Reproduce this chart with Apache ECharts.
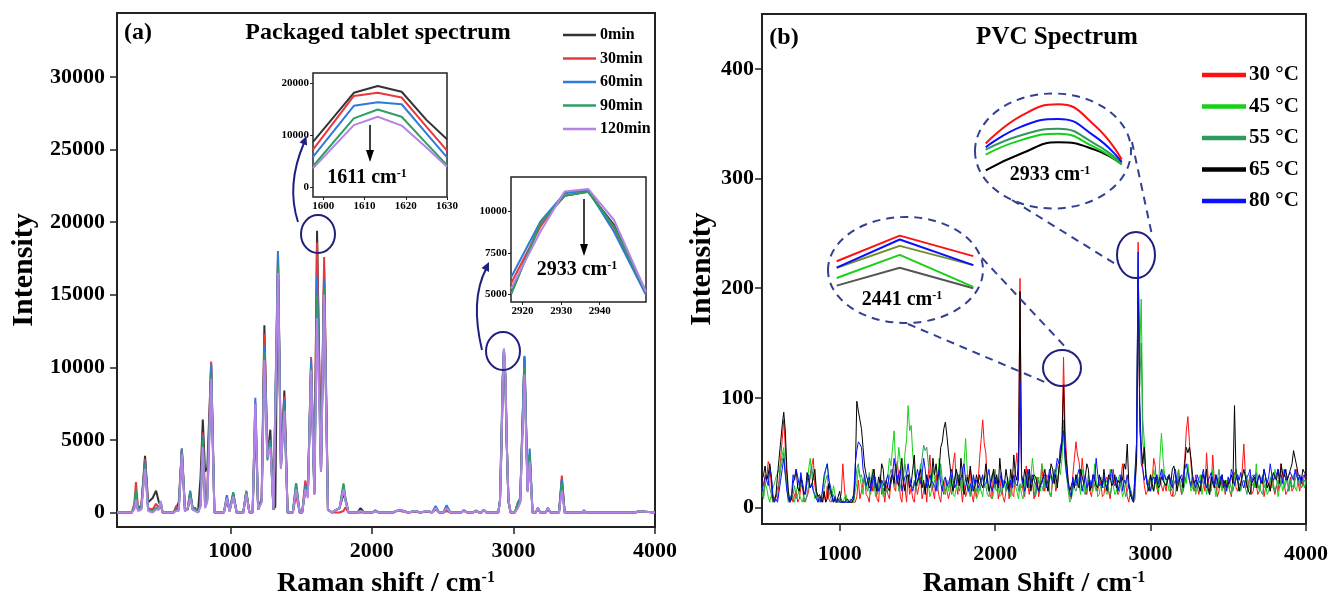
<!DOCTYPE html>
<html>
<head>
<meta charset="utf-8">
<title>Raman spectra</title>
<script src="https://cdn.jsdelivr.net/npm/echarts@6.0.0/dist/echarts.min.js"></script>
<style>
  html, body { margin: 0; padding: 0; background: #fff; }
  #chart { width: 1331px; height: 603px; }
</style>
</head>
<body>
<div id="chart"></div>
<script>
// ---------- panel (a): packaged tablet spectrum ----------
const namesA = ['0min', '30min', '60min', '90min', '120min']
const colorsA = ['#333333', '#e8383d', '#2f7bd8', '#2e9e62', '#b583e6']

const shiftA = [
  200, 305, 322, 334, 348, 372, 398, 420, 452, 476, 496, 509, 522, 600, 618, 636, 658, 680, 700, 717,
  735, 752, 772, 790, 806, 822, 838, 865, 888, 955, 976, 995, 1021, 1045, 1092, 1113, 1135, 1158, 1177, 1197,
  1222, 1241, 1262, 1283, 1305, 1318, 1337, 1358, 1382, 1405, 1442, 1465, 1490, 1508, 1530, 1548, 1571, 1594, 1613, 1641,
  1663, 1690, 1718, 1772, 1800, 1812, 1835, 1898, 1920, 1945, 2005, 2025, 2048, 2150, 2172, 2200, 2225, 2255, 2310, 2340,
  2395, 2425, 2450, 2475, 2505, 2528, 2555, 2630, 2650, 2675, 2715, 2735, 2760, 2775, 2790, 2810, 2893, 2905, 2917, 2925,
  2933, 2944, 2952, 2965, 2980, 3010, 3032, 3048, 3078, 3100, 3115, 3135, 3158, 3172, 3190, 3228, 3243, 3262, 3322, 3342,
  3362, 3485, 3498, 3512, 3675, 3689, 3703, 3840, 3850, 3862, 3872, 3880, 3890, 4000
]
const min0 = [
  0, 0, 300, 1100, 200, 500, 3900, 700, 1000, 1500, 700, 500, 0, 0, 300, 700, 4300, 300, 200, 1200,
  300, 300, 0, 2400, 6400, 2800, 3100, 10200, 0, 0, 900, 100, 1200, 0, 0, 1400, 0, 0, 6500, 200,
  1000, 12900, 3800, 5700, 200, 400, 17900, 3100, 8400, 0, 0, 1700, 0, 0, 1500, 1200, 10200, 1300, 19400, 2800,
  16800, 200, 0, 300, 1300, 900, 0, 0, 300, 0, 0, 150, 0, 0, 100, 150, 100, 0, 100, 0,
  100, 0, 350, 0, 0, 300, 0, 0, 150, 0, 0, 100, 0, 0, 200, 0, 0, 800, 5000, 9300,
  11200, 9200, 5100, 800, 0, 0, 500, 800, 10700, 1500, 4000, 0, 0, 300, 0, 0, 300, 0, 0, 2200,
  0, 0, 150, 0, 0, 100, 0, 0, 80, 0, 0, 80, 0, 0
]
const min30 = [
  0, 0, 600, 2100, 300, 300, 3700, 300, 200, 600, 300, 700, 0, 0, 450, 200, 4400, 100, 300, 1400,
  200, 200, 0, 500, 5500, 900, 1600, 10400, 0, 0, 1100, 100, 1300, 0, 0, 1400, 0, 0, 7600, 200,
  900, 12300, 4300, 5000, 200, 300, 17500, 3300, 8000, 0, 0, 1200, 0, 0, 2200, 1300, 10700, 1500, 18600, 2900,
  17600, 200, 0, 0, 100, 350, 0, 0, 0, 0, 0, 100, 0, 0, 100, 100, 50, 0, 50, 0,
  50, 0, 200, 0, 0, 100, 0, 0, 100, 0, 0, 100, 0, 0, 150, 0, 0, 800, 5650, 9100,
  11200, 9000, 5050, 800, 0, 0, 400, 700, 10500, 1500, 3800, 0, 0, 200, 0, 0, 200, 0, 0, 2550,
  0, 0, 100, 0, 0, 100, 0, 0, 80, 0, 0, 80, 0, 0
]
const min60 = [
  0, 0, 400, 1400, 200, 300, 3500, 200, 100, 300, 200, 700, 0, 0, 200, 200, 4400, 100, 300, 1500,
  200, 200, 0, 500, 5300, 600, 900, 10200, 0, 0, 1200, 100, 1300, 0, 0, 1400, 0, 0, 7900, 200,
  800, 11500, 4000, 5000, 200, 300, 18000, 3300, 7800, 0, 0, 2000, 0, 0, 1900, 1400, 10500, 1400, 16300, 2900,
  16000, 200, 0, 300, 1900, 1000, 0, 0, 100, 0, 0, 100, 0, 0, 100, 150, 100, 0, 100, 0,
  100, 0, 450, 0, 0, 500, 0, 0, 150, 0, 0, 150, 0, 0, 200, 0, 0, 900, 6000, 9400,
  11200, 8800, 4950, 700, 0, 0, 700, 1000, 10800, 1600, 4400, 0, 0, 300, 0, 0, 300, 0, 0, 2300,
  0, 0, 150, 0, 0, 100, 0, 0, 80, 0, 0, 80, 0, 0
]
const min90 = [
  0, 0, 400, 1600, 200, 300, 3300, 200, 100, 300, 200, 700, 0, 0, 200, 200, 4200, 100, 300, 1300,
  200, 300, 0, 500, 5000, 500, 900, 9500, 0, 0, 1000, 100, 1400, 0, 0, 1500, 0, 0, 6800, 200,
  800, 11000, 3600, 4800, 200, 300, 17000, 3100, 7300, 0, 0, 2000, 0, 0, 1700, 1200, 10000, 1300, 14900, 2800,
  15500, 200, 0, 300, 2000, 1100, 0, 0, 100, 0, 0, 100, 0, 0, 100, 150, 100, 0, 100, 0,
  100, 0, 300, 0, 0, 300, 0, 0, 150, 0, 0, 100, 0, 0, 200, 0, 0, 700, 5000, 9300,
  11100, 9100, 5150, 800, 0, 0, 700, 800, 10000, 1500, 4000, 0, 0, 300, 0, 0, 300, 0, 0, 2000,
  0, 0, 150, 0, 0, 100, 0, 0, 80, 0, 0, 80, 0, 0
]
const min120 = [
  0, 0, 200, 900, 100, 200, 3000, 100, 0, 200, 200, 800, 0, 0, 100, 100, 4000, 100, 300, 1000,
  200, 100, 0, 400, 4500, 300, 700, 9200, 0, 0, 1000, 100, 1100, 0, 0, 1300, 0, 0, 7500, 200,
  700, 10500, 3800, 4500, 200, 300, 16500, 3000, 7000, 0, 0, 1600, 0, 0, 1600, 1000, 9800, 1200, 13400, 2800,
  15000, 200, 0, 300, 1600, 900, 0, 0, 100, 0, 0, 100, 0, 0, 100, 150, 100, 0, 100, 0,
  100, 0, 300, 0, 0, 300, 0, 0, 150, 0, 0, 100, 0, 0, 200, 0, 0, 700, 5300, 8800,
  11300, 9500, 5150, 900, 0, 0, 300, 700, 9500, 1400, 3500, 0, 0, 300, 0, 0, 300, 0, 0, 1500,
  0, 0, 150, 0, 0, 100, 0, 0, 80, 0, 0, 80, 0, 0
]
const ticksA_x = [1000, 2000, 3000, 4000]
const ticksA_y = [0, 5000, 10000, 15000, 20000, 25000, 30000]

// inset 1: 1611 band
const inset1Shift = [1597.5, 1607.4, 1613.2, 1619, 1625, 1630]
const inset1 = [
  [8700, 18100, 19400, 18300, 12900, 9200],
  [7200, 17500, 18100, 17200, 11600, 7000],
  [5800, 15600, 16300, 15900, 10300, 5700],
  [4000, 13200, 14900, 13500, 8400, 4200],
  [3600, 11900, 13500, 11800, 7600, 3900]
]
const inset1Ticks_x = [1600, 1610, 1620, 1630]
const inset1Ticks_y = [0, 10000, 20000]

// inset 2: 2933 band
const inset2Shift = [2917, 2924.6, 2930.9, 2937, 2943.7, 2952]
const inset2 = [
  [5000, 9290, 10950, 11190, 9190, 5100],
  [5650, 9085, 11150, 11270, 8990, 5050],
  [6010, 9387, 11100, 11270, 8780, 4950],
  [5000, 9290, 10950, 11190, 9085, 5150],
  [5340, 8780, 11208, 11370, 9490, 5150]
]
const inset2Ticks_x = [2920, 2930, 2940]
const inset2Ticks_y = [5000, 7500, 10000]

// ---------- panel (b): PVC spectrum ----------
const namesB = ['30 °C', '45 °C', '55 °C', '65 °C', '80 °C']
const colorsB = ['#ff1010', '#18d018', '#2f9a5e', '#000000', '#0a10ff']
// sampled every 10 cm-1 from 500 to 4000, one row = 200 cm-1
const shiftB = Array.from({ length: 351 }, (_, i) => 500 + i * 10)
const c30 = [
  18,10,30,25,42,38,20,5,5,12, 8,25,45,62,80,55,28,5,5,10,
  5,12,15,5,8,18,22,5,5,10, 15,30,38,45,20,12,5,8,5,5,
  12,5,20,8,5,5,8,5,5,5, 5,12,40,18,5,5,5,5,5,5,
  5,10,25,8,15,22,30,12,10,5, 22,15,35,20,8,5,28,12,18,5,
  20,12,8,25,35,18,15,42,28,10, 5,25,18,5,30,12,18,8,5,22,
  12,20,28,8,15,22,5,30,48,25, 15,8,30,18,10,5,20,12,28,15,
  8,15,25,40,50,22,12,30,18,5, 22,10,15,28,35,12,5,18,10,22,
  45,62,80,58,50,22,20,10,8,35, 18,28,8,15,28,10,5,15,22,8,
  22,12,10,35,50,30,209,28,15,10, 38,20,12,30,25,8,15,28,10,18,
  40,22,15,30,28,12,10,25,32,15, 20,35,55,60,137,70,45,20,12,8,
  30,45,60,48,42,25,45,30,18,12, 25,15,10,22,30,18,15,28,22,10,
  12,25,28,15,8,20,35,22,20,12, 15,28,40,25,22,10,5,15,8,5,
  5,40,242,70,55,35,20,12,15,25, 30,22,45,38,18,12,28,20,15,22,
  15,28,30,12,10,22,25,18,35,20, 12,28,45,70,83,60,40,22,15,30,
  20,12,18,30,22,15,50,28,15,20, 48,25,22,10,15,28,18,25,12,22,
  25,15,10,28,32,18,15,22,20,35, 58,30,18,22,30,12,15,25,22,12,
  15,25,28,10,18,25,22,15,30,18, 12,20,15,28,40,25,22,12,15,20,
  28,15,18,30,35,22,15,28,20,30,25
]
const c45 = [
  15,8,22,18,10,5,5,18,22,28, 28,35,40,48,55,30,20,5,5,12,
  10,5,15,20,12,8,5,12,15,22, 35,45,30,18,8,12,5,5,8,15,
  25,35,40,28,15,10,20,12,5,8, 5,5,5,5,12,5,5,5,5,5,
  15,22,35,28,20,12,30,18,25,15, 12,35,28,10,20,15,30,22,10,18,
  25,30,45,38,55,70,40,35,55,42, 30,25,50,62,93,70,75,48,35,22,
  20,28,40,30,18,15,25,22,10,15, 35,28,18,22,45,30,22,15,12,25,
  15,22,30,12,10,18,25,30,20,15, 40,63,35,18,12,25,28,15,8,12,
  20,15,10,25,30,18,15,25,8,12, 35,22,18,10,12,25,22,15,28,18,
  10,18,25,20,15,8,20,12,8,25, 30,22,18,28,45,30,12,18,28,15,
  40,32,18,22,25,15,10,28,30,18, 22,35,30,45,75,40,28,15,5,8,
  15,22,30,25,20,12,35,28,12,18, 25,20,18,15,40,25,10,12,22,18,
  28,15,12,22,35,28,20,12,15,25, 30,18,10,15,25,20,18,12,8,5,
  5,60,222,140,190,80,60,30,25,18, 15,22,35,28,20,15,45,68,45,30,
  30,22,15,18,25,10,12,28,35,22, 20,15,28,22,40,28,15,18,22,12,
  18,25,30,12,20,25,12,22,20,15, 35,22,10,18,28,20,15,22,18,25,
  20,15,12,22,28,35,25,15,18,22, 25,18,30,15,22,28,30,18,40,22,
  15,22,30,18,22,12,15,28,18,22, 35,28,10,18,25,15,20,28,22,15,
  22,28,30,18,15,28,20,22,25,18,25
]
const c55 = [
  10,15,20,28,30,18,12,5,5,10, 18,22,35,42,50,32,25,8,5,8,
  12,20,8,12,15,22,25,10,5,12, 20,28,38,25,28,15,10,5,8,5,
  18,25,30,15,10,5,12,8,5,5, 5,8,5,5,5,5,5,8,5,5,
  20,35,40,28,30,22,25,18,15,32, 22,28,15,28,12,20,18,25,15,12,
  15,22,28,35,30,20,22,30,15,18, 25,32,40,28,30,22,20,18,25,15,
  25,30,35,45,57,52,55,40,30,22, 18,25,22,15,28,40,25,20,15,22,
  18,25,12,20,28,35,22,15,25,18, 20,28,30,15,10,22,18,25,15,20,
  15,22,28,18,20,12,10,25,30,22, 18,15,25,20,12,18,22,15,20,12,
  12,18,20,25,28,15,22,18,25,12, 30,22,18,25,22,15,10,20,25,18,
  20,15,28,22,15,25,30,22,35,28, 40,32,45,55,80,50,30,20,10,8,
  22,18,15,20,28,25,20,15,12,18, 30,22,18,25,25,15,15,22,28,20,
  18,22,25,15,12,20,30,25,20,15, 15,22,28,18,10,15,22,18,12,5,
  8,55,226,110,150,60,45,30,20,25, 28,18,15,22,30,25,22,28,35,20,
  20,25,28,15,15,22,25,18,30,22, 12,15,22,30,35,25,18,22,25,15,
  25,18,15,22,30,25,20,15,12,22, 28,20,18,25,35,22,22,18,15,20,
  28,22,18,15,22,25,30,18,15,22, 25,18,12,20,28,22,20,25,32,18,
  20,15,12,22,28,18,18,25,30,22, 15,20,25,18,22,28,18,22,28,15,
  25,20,18,25,30,22,28,18,20,25,22
]
const c65 = [
  25,30,38,25,30,40,28,8,5,12, 30,45,60,75,87,70,35,15,5,8,
  22,28,35,18,15,28,20,12,15,32, 25,18,20,28,35,15,10,12,8,5,
  15,5,8,22,15,10,5,8,5,5, 15,5,5,5,5,8,5,5,5,8,
  30,97,88,80,72,55,38,30,25,18, 20,30,35,22,15,28,22,40,35,15,
  25,18,15,28,30,22,40,25,20,32, 45,22,15,28,30,18,22,35,48,20,
  20,28,35,18,25,12,30,22,18,25, 45,30,40,25,35,55,60,72,78,65,
  50,38,22,15,25,35,28,20,45,30, 12,18,28,22,38,25,15,20,30,22,
  30,22,18,25,40,28,15,20,28,35, 22,30,18,45,28,20,22,35,25,15,
  35,22,48,30,25,40,197,30,22,35, 28,18,35,15,25,30,28,22,15,20,
  20,28,35,22,15,28,40,35,22,30, 18,35,45,60,112,55,40,25,15,20,
  25,18,30,22,18,35,28,22,28,40, 35,15,22,30,25,20,18,30,25,20,
  35,22,15,30,28,20,22,30,18,25, 22,28,25,40,35,58,22,12,8,5,
  5,45,210,95,55,40,55,30,20,15, 30,22,15,28,25,18,20,28,25,22,
  20,25,30,22,35,38,30,15,22,28, 25,18,40,55,50,55,45,30,22,25,
  25,20,15,28,30,22,35,18,12,28, 22,18,30,25,18,22,30,20,25,18,
  18,25,30,22,93,30,25,15,22,28, 35,28,20,15,12,22,25,28,18,25,
  30,25,22,35,28,18,22,15,25,32, 28,25,35,22,40,30,28,35,25,30,
  35,40,52,45,38,30,28,25,35,32,30
]
const c80 = [
  15,22,28,25,20,35,30,12,5,8, 5,15,25,35,45,30,15,8,5,12,
  30,25,35,28,20,32,22,15,12,25, 30,18,22,15,12,8,5,10,5,5,
  30,35,40,25,20,12,5,10,5,8, 5,5,5,5,5,5,5,5,8,12,
  40,52,60,58,55,35,28,20,25,28, 15,22,30,18,22,15,18,25,22,18,
  25,30,18,22,30,45,35,22,30,35, 15,22,28,30,40,28,20,15,22,25,
  35,28,22,30,45,35,18,22,30,25, 25,20,15,28,35,22,15,25,28,20,
  22,28,35,25,18,22,30,28,25,35, 40,25,20,15,22,15,30,22,25,18,
  18,25,30,20,22,28,35,22,15,20, 28,22,20,25,32,18,25,22,18,15,
  25,18,30,22,20,25,115,28,22,15, 20,35,28,22,30,25,22,18,15,20,
  22,28,30,18,25,35,30,22,28,35, 45,40,55,62,70,45,30,22,15,10,
  28,22,20,30,35,25,15,22,30,18, 22,25,18,30,25,45,30,20,22,18,
  30,22,18,25,28,35,22,20,28,15, 22,30,15,25,22,30,18,15,10,5,
  5,60,233,95,40,35,25,30,20,22, 15,25,28,22,30,22,28,35,25,30,
  25,28,30,22,18,30,35,22,25,28, 30,22,35,40,32,25,20,28,22,18,
  30,25,22,28,35,22,18,25,28,32, 25,20,30,22,20,28,30,18,22,15,
  28,22,35,30,20,28,30,25,32,22, 18,25,28,30,35,22,28,30,22,25,
  30,22,25,35,28,22,28,40,30,25, 25,30,35,28,30,22,35,25,28,30,
  32,28,25,35,30,25,30,22,28,30,25
]
const ticksB_x = [1000, 2000, 3000, 4000]
const ticksB_y = [0, 100, 200, 300, 400]

// zoomed views inside the dashed ellipses
const zoom2441Shift = [2435, 2441, 2448]
const zoom2441 = [
  [117, 137, 121],
  [104, 122, 97],
  [112, 129, 114],
  [98, 112, 96],
  [112, 134, 114]
]
const zoom2933Shift = [2925, 2929, 2933, 2937, 2940]
const zoom2933 = [
  [209, 232, 241, 224, 196],
  [200, 212, 217, 206, 192],
  [204, 216, 221, 209, 193],
  [187, 201, 210, 204, 192],
  [206, 223, 229, 215, 194]
]

// ---------- chart ----------
const FONT = "'Liberation Serif', 'Times New Roman', serif"
const NAVY = '#1f1f80'
const DASH = '#33408f'
const pairs = (xs, ys) => xs.map((x, i) => [x, ys[i]])
const plain = (v) => String(v)

const bold = (size) => ({ fontFamily: FONT, fontWeight: 'bold', fontSize: size, color: '#000' })
const supRich = (size) => ({ sup: { fontFamily: FONT, fontWeight: 'bold', fontSize: size, verticalAlign: 'top', color: '#000' } })

function mainX(gridIndex, min, max, ticks, name, margin, gap) {
  return {
    type: 'value', gridIndex, min, max,
    name, nameLocation: 'middle', nameGap: gap,
    nameTextStyle: Object.assign(bold(28), { rich: supRich(16) }),
    axisLine: { show: false, onZero: false },
    axisTick: { show: true, length: 7, customValues: ticks, lineStyle: { color: '#222', width: 1.5 } },
    axisLabel: Object.assign(bold(22), { margin, customValues: ticks, formatter: plain }),
    splitLine: { show: false }
  }
}
function mainY(gridIndex, min, max, ticks, margin, gap) {
  return {
    type: 'value', gridIndex, min, max,
    name: 'Intensity', nameLocation: 'middle', nameGap: gap,
    nameTextStyle: bold(30),
    axisLine: { show: false, onZero: false },
    axisTick: { show: true, length: 7, customValues: ticks, lineStyle: { color: '#222', width: 1.5 } },
    axisLabel: Object.assign(bold(22), { margin, customValues: ticks, formatter: plain }),
    splitLine: { show: false }
  }
}
function insetAxis(gridIndex, min, max, ticks) {
  return {
    type: 'value', gridIndex, min, max,
    axisLine: { show: false, onZero: false },
    axisTick: { show: true, length: 3, customValues: ticks, lineStyle: { color: '#222' } },
    axisLabel: Object.assign(bold(11), { margin: 4, customValues: ticks, formatter: plain }),
    splitLine: { show: false }
  }
}
function hiddenAxis(gridIndex, min, max) {
  return { type: 'value', gridIndex, min, max, show: false, axisLine: { onZero: false }, splitLine: { show: false } }
}
function lineSeries(name, xi, yi, data, color, width, smooth) {
  return {
    name, type: 'line', xAxisIndex: xi, yAxisIndex: yi, data,
    symbol: 'none', smooth: smooth || false, animation: false,
    lineStyle: { color, width }, itemStyle: { color },
    emphasis: { disabled: true }
  }
}

const seriesA = [min0, min30, min60, min90, min120]
const seriesB = [c30, c45, c55, c65, c80]
const series = []
seriesA.forEach((ys, i) => series.push(lineSeries(namesA[i], 0, 0, pairs(shiftA, ys), colorsA[i], 2)))
inset1.forEach((ys, i) => series.push(lineSeries(null, 1, 1, pairs(inset1Shift, ys), colorsA[i], 2)))
inset2.forEach((ys, i) => series.push(lineSeries(null, 2, 2, pairs(inset2Shift, ys), colorsA[i], 2)))
seriesB.forEach((ys, i) => series.push(lineSeries(namesB[i], 3, 3, pairs(shiftB, ys), colorsB[i], 1)))
const colors2441 = ['#ff1010', '#18d018', '#6f8f2f', '#555555', '#0a10ff']
const drawOrder = [3, 1, 2, 4, 0]
drawOrder.forEach((i) => series.push(lineSeries(null, 4, 4, pairs(zoom2441Shift, zoom2441[i]), colors2441[i], 2)))
drawOrder.forEach((i) => series.push(lineSeries(null, 5, 5, pairs(zoom2933Shift, zoom2933[i]), colorsB[i], 2, 0.5)))

const frame = { show: true, borderColor: '#222', borderWidth: 2, backgroundColor: '#fff' }
const rowA = 23.5
const rowB = 31.5

const option = {
  animation: false,
  grid: [
    Object.assign({ left: 117, top: 13, width: 538, height: 515 }, frame),
    Object.assign({ left: 313, top: 73, width: 134, height: 124 }, frame, { borderWidth: 1.5 }),
    Object.assign({ left: 511, top: 177, width: 135, height: 125 }, frame, { borderWidth: 1.5 }),
    Object.assign({ left: 762, top: 14, width: 545, height: 518 }, frame),
    { left: 836.7, top: 225, width: 136.6, height: 75, show: false },
    { left: 985.7, top: 90, width: 136, height: 90, show: false }
  ],
  xAxis: [
    mainX(0, 200, 4000, ticksA_x, 'Raman shift / cm{sup|-1}', 13, 43),
    insetAxis(1, 1597.5, 1630, inset1Ticks_x),
    insetAxis(2, 2917, 2952, inset2Ticks_x),
    mainX(3, 500, 4000, ticksB_x, 'Raman Shift / cm{sup|-1}', 19, 39),
    hiddenAxis(4, 2435, 2448),
    hiddenAxis(5, 2925, 2940)
  ],
  yAxis: [
    mainY(0, -1000, 34400, ticksA_y, 12, 78),
    insetAxis(1, -1900, 21900, inset1Ticks_y),
    insetAxis(2, 4530, 12090, inset2Ticks_y),
    mainY(3, -15, 450, ticksB_y, 8, 45),
    hiddenAxis(4, 86.8, 145.3),
    hiddenAxis(5, 179.2, 252.7)
  ],
  legend: [
    {
      data: namesA, orient: 'vertical', left: 563, top: 35 - rowA / 2, padding: 0,
      icon: 'rect', itemWidth: 33, itemHeight: 2.5, itemGap: 0,
      textStyle: Object.assign(bold(16), { lineHeight: rowA, padding: [0, 0, 0, -1] }),
      selectedMode: false
    },
    {
      data: namesB, orient: 'vertical', left: 1202, top: 75 - rowB / 2, padding: 0,
      icon: 'rect', itemWidth: 44, itemHeight: 4.5, itemGap: 0,
      textStyle: Object.assign(bold(21), { lineHeight: rowB, padding: [0, 0, 0, -2] }),
      selectedMode: false
    }
  ],
  series,
  graphic: [
    // titles
    { type: 'text', x: 138, y: 33, style: { text: '(a)', font: `bold 24px ${FONT}`, align: 'center', verticalAlign: 'middle' } },
    { type: 'text', x: 378, y: 33, style: { text: 'Packaged tablet spectrum', font: `bold 24px ${FONT}`, align: 'center', verticalAlign: 'middle' } },
    { type: 'text', x: 784, y: 38, style: { text: '(b)', font: `bold 24px ${FONT}`, align: 'center', verticalAlign: 'middle' } },
    { type: 'text', x: 1057, y: 38, style: { text: 'PVC Spectrum', font: `bold 25px ${FONT}`, align: 'center', verticalAlign: 'middle' } },
    // panel (a) inset labels and arrows
    { type: 'text', x: 367, y: 178, z: 20, style: { text: '1611 cm{sup|-1}', font: `bold 20px ${FONT}`, align: 'center', verticalAlign: 'middle', rich: supRich(12) } },
    { type: 'text', x: 577, y: 270, z: 20, style: { text: '2933 cm{sup|-1}', font: `bold 20px ${FONT}`, align: 'center', verticalAlign: 'middle', rich: supRich(12) } },
    { type: 'line', z: 20, shape: { x1: 370, y1: 125, x2: 370, y2: 152 }, style: { stroke: '#000', lineWidth: 1.5 } },
    { type: 'polygon', z: 20, shape: { points: [[370, 162], [366, 150], [374, 150]] }, style: { fill: '#000' } },
    { type: 'line', z: 20, shape: { x1: 584, y1: 199, x2: 584, y2: 246 }, style: { stroke: '#000', lineWidth: 1.5 } },
    { type: 'polygon', z: 20, shape: { points: [[584, 256], [580, 244], [588, 244]] }, style: { fill: '#000' } },
    // panel (a) circles and curved arrows
    { type: 'ellipse', z: 20, shape: { cx: 318, cy: 234, rx: 17, ry: 19 }, style: { fill: 'none', stroke: NAVY, lineWidth: 2 } },
    { type: 'ellipse', z: 20, shape: { cx: 503, cy: 351, rx: 17, ry: 19 }, style: { fill: 'none', stroke: NAVY, lineWidth: 2 } },
    { type: 'bezierCurve', z: 20, shape: { x1: 298, y1: 222, cpx1: 286, cpy1: 185, x2: 304, y2: 143 }, style: { fill: 'none', stroke: NAVY, lineWidth: 2 } },
    { type: 'polygon', z: 20, shape: { points: [[306.5, 136], [307, 145.5], [299.5, 142.5]] }, style: { fill: NAVY } },
    { type: 'bezierCurve', z: 20, shape: { x1: 482, y1: 350, cpx1: 470, cpy1: 300, x2: 486, y2: 269 }, style: { fill: 'none', stroke: NAVY, lineWidth: 2 } },
    { type: 'polygon', z: 20, shape: { points: [[489, 262], [489, 272], [481.5, 268]] }, style: { fill: NAVY } },
    // panel (b) circles, dashed ellipses and leaders
    { type: 'ellipse', z: 20, shape: { cx: 1062, cy: 368, rx: 19, ry: 18 }, style: { fill: 'none', stroke: NAVY, lineWidth: 2 } },
    { type: 'ellipse', z: 20, shape: { cx: 1136, cy: 255, rx: 19, ry: 23 }, style: { fill: 'none', stroke: NAVY, lineWidth: 2 } },
    { type: 'ellipse', z: 20, shape: { cx: 905.5, cy: 270, rx: 77.5, ry: 53 }, style: { fill: 'none', stroke: DASH, lineWidth: 2, lineDash: [8, 6] } },
    { type: 'ellipse', z: 20, shape: { cx: 1053, cy: 151, rx: 78, ry: 57.5 }, style: { fill: 'none', stroke: DASH, lineWidth: 2, lineDash: [8, 6] } },
    { type: 'line', z: 20, shape: { x1: 982, y1: 258, x2: 1070, y2: 352 }, style: { stroke: DASH, lineWidth: 2, lineDash: [8, 6] } },
    { type: 'line', z: 20, shape: { x1: 908, y1: 324, x2: 1047, y2: 383 }, style: { stroke: DASH, lineWidth: 2, lineDash: [8, 6] } },
    { type: 'line', z: 20, shape: { x1: 1012, y1: 200, x2: 1117, y2: 265 }, style: { stroke: DASH, lineWidth: 2, lineDash: [8, 6] } },
    { type: 'line', z: 20, shape: { x1: 1132, y1: 142, x2: 1152, y2: 235 }, style: { stroke: DASH, lineWidth: 2, lineDash: [8, 6] } },
    { type: 'text', x: 902, y: 300, z: 20, style: { text: '2441 cm{sup|-1}', font: `bold 20px ${FONT}`, align: 'center', verticalAlign: 'middle', rich: supRich(12) } },
    { type: 'text', x: 1050, y: 175, z: 20, style: { text: '2933 cm{sup|-1}', font: `bold 20px ${FONT}`, align: 'center', verticalAlign: 'middle', rich: supRich(12) } }
  ]
}

const myChart = echarts.init(document.getElementById('chart'), null, { renderer: 'canvas' })
option && myChart.setOption(option)
window.addEventListener('resize', () => myChart.resize())
</script>
</body>
</html>
